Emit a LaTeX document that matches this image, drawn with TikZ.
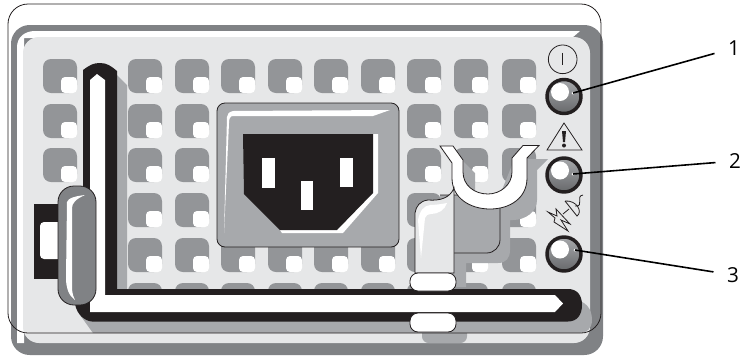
\documentclass[tikz,border=0pt]{standalone}
\usepackage{fontspec}
\setmainfont{Open Sans}
\usepackage{xcolor}
\usepackage{tikz}
\usetikzlibrary{positioning,calc}
\definecolor{edgegray}{HTML}{808285}
\definecolor{holegray}{HTML}{939598}
\definecolor{shadegray}{HTML}{A7A9AC}
\definecolor{panelgray}{HTML}{E6E7E8}
\definecolor{inkblack}{HTML}{231F20}
\tikzset{
  ledlamp/.style={circle, draw=inkblack, line width=2.6pt, minimum size=25.5pt, inner sep=0pt, top color=shadegray, bottom color=edgegray!80!black},
  callout/.style={inner sep=10pt, font=\fontsize{15.5}{18}\selectfont},
  leader/.style={draw=black, line width=1.2pt},
  hairline/.style={draw=inkblack, line width=0.6pt}
}
\begin{document}
\begin{tikzpicture}[x=0.75pt,y=-0.75pt]
\useasboundingbox (0,0) rectangle (740,358);
\fill[edgegray, rounded corners=14] (11,25) rectangle (603,355);
\fill[white] (17,343) -- (17,47) .. controls (17,37) and (25,31) .. (35,31) -- (580,31) -- (572,38) -- (24,38) -- (24,343) -- cycle;
\fill[panelgray, rounded corners=12] (23,37) rectangle (590,343);
\foreach \x in {128,175,221,268,314,361,407,454,502}
  \foreach \y in {59,104,148,193,238,283} {
    \fill[holegray, rounded corners=6] (\x,\y) rectangle +(34,34);
    \fill[white, rounded corners=3] (\x+18,\y+18) rectangle +(16,16);
  }
\foreach \y in {59,104,148} {
  \fill[holegray, rounded corners=6] (43,\y) rectangle +(34,34);
  \fill[white, rounded corners=3] (61,\y+18) rectangle +(16,16);
}
\fill[shadegray] (462,160) -- (475,173) -- (475,200) -- (462,200) -- cycle;
\fill[shadegray] (548,159) -- (537,170) -- (537,200) .. controls (537,212) and (525,220) .. (513,220) -- (510,220) -- (510,250) .. controls (510,258) and (506,263) .. (498,263) -- (466,263) -- (466,287) -- (450,287) -- (450,220) -- (500,195) -- (512,165) -- (520,159) -- cycle;
\fill[shadegray] (117,75) -- (127,85) -- (127,300) -- (575,300) .. controls (585,301) and (592,308) .. (592,320) .. controls (592,328) and (587,333) .. (580,333) -- (93,333) -- (80,315) -- cycle;
\fill[shadegray, rounded corners=5] (422,325) rectangle (467,343);
\fill[inkblack] (83,70) .. controls (90,65) and (93,63) .. (100,63) .. controls (107,63) and (111,66) .. (117,71) -- (117,289) -- (568,289) .. controls (577,289) and (582,295) .. (582,305) .. controls (582,315) and (577,321.5) .. (568,321.5) -- (92,321.5) .. controls (85,321) and (77,315) .. (75,304) -- (83,300) -- cycle;
\fill[white] (97,74) -- (105,80) -- (105,295) -- (555,295) -- (563,303.5) -- (555,312) -- (90,312) -- (90,80) -- cycle;
\fill[inkblack] (34,204) rectangle (60,279);
\fill[white, rounded corners=3] (40,222) rectangle (62,259);
\draw[hairline, fill=edgegray, rounded corners=12] (58,186) rectangle (96,305);
\fill[white] (85,195) .. controls (76,196) and (68,198) .. (67,202) -- (66,278) .. controls (66,288) and (69,296) .. (75,300) .. controls (72,294) and (72,290) .. (72,285) -- (72,208) .. controls (72,203) and (76,199) .. (85,195) -- cycle;
\draw[hairline, fill=shadegray, rounded corners=6] (217,103) rectangle (399,247);
\fill[white] (390,110) -- (233,111) .. controls (229,112) and (227,114) .. (227,117) -- (224,233) -- (229,123) .. controls (229,119) and (230,116) .. (233,116) -- (373,116) -- cycle;
\fill[white] (373,134) -- (378,134) -- (378,193) -- (343,233) -- (282,233) -- (280,230) -- cycle;
\fill[inkblack] (243,134) -- (373,134) -- (373,193) -- (337,230) -- (280,230) -- (244,194) -- cycle;
\fill[white] (262,158) rectangle (275,188);
\fill[white] (301,181) rectangle (313,210);
\fill[white] (340,158) rectangle (353,187);
\draw[hairline, fill=shadegray, rounded corners=10] (440,195) -- (500,195) -- (500,253) -- (440,253);
\draw[hairline, fill=white] (440,146) -- (452,163) -- (452,178) .. controls (452,198) and (470,209) .. (490,209) .. controls (510,209) and (527,198) .. (527,178) -- (527,158) -- (539,145.5) -- (523,145.5) -- (512,158) -- (512,172) .. controls (512,185) and (500,194) .. (488,194) .. controls (474,194) and (463,185) .. (463,172) -- (463,160) -- (453,146) -- cycle;
\draw[hairline, fill=panelgray] (415,273) -- (415,213) .. controls (416,206) and (420,201) .. (428,200) .. controls (440,201) and (450,198) .. (454,188) -- (454,273) -- cycle;
\fill[white] (421,258) -- (425,218) .. controls (426,215) and (428,214) .. (431,214) .. controls (438,214) and (445,210) .. (447,203) .. controls (442,204) and (435,205) .. (430,205) .. controls (424,206) and (420,210) .. (418,220) -- cycle;
\draw[hairline, rounded corners=15] (8,4) rectangle (601,333);
\draw[hairline, fill=white, rounded corners=6] (410,273) rectangle (456,291);
\draw[hairline, fill=white, rounded corners=6] (410,313) rectangle (456,332);
\node[ledlamp] (ledpower) at (564,96.5) {};
\node[ledlamp] (ledfault) at (564,175) {};
\node[ledlamp] (ledinput) at (564,254) {};
\foreach \led in {ledpower,ledfault,ledinput}
  \fill[white] ($(\led)+(-4,-4.5)$) circle (9);
\node[circle, hairline, minimum size=21.5pt, inner sep=0pt] (powersign) at (562.7,59.3) {};
\draw[hairline] (powersign.center) +(0,-6.5) -- +(0,6);
\draw[hairline, line join=miter] (564,123) -- (582,150) -- (547,150) -- cycle;
\fill[inkblack] (562,131) -- (566,131) -- (565,142) -- (563,142) -- cycle;
\fill[inkblack] (564,145.5) circle (2);
\draw[hairline] (548,212) -- (557,216) -- (556,209) -- (570,224) -- (561,220) -- (568,231) -- (554,222) -- (555,218) -- cycle;
\draw[hairline] (563,214) -- (569,209) (565,201) -- (577,216) .. controls (583,212) and (577,200) .. (565,201);
\draw[hairline] (575,206) .. controls (585,207) and (575,196) .. (583,195);
\coordinate (tippower) at (573,93);
\coordinate (tipfault) at (573,174);
\coordinate (tipinput) at (575,250);
\node[callout] (numone) at (734,48) {1};
\node[callout] (numtwo) at (735,161) {2};
\node[callout] (numthree) at (733,275) {3};
\foreach \tip in {tippower,tipfault,tipinput}
  \fill[white] (\tip) circle (1.5);
\draw[leader] (tippower) -- (numone);
\draw[leader] (tipfault) -- (numtwo);
\draw[leader] (tipinput) -- (numthree);
\end{tikzpicture}
\end{document}
